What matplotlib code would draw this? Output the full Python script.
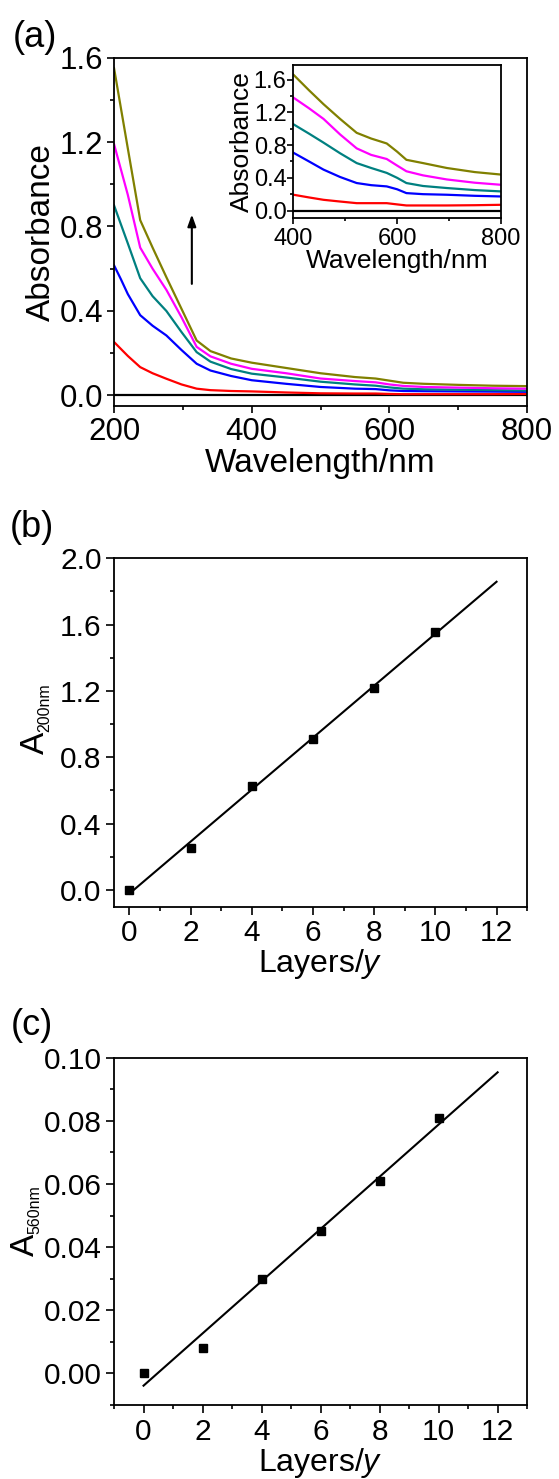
import matplotlib
matplotlib.use('Agg')
import matplotlib.pyplot as plt
import numpy as np
from matplotlib.ticker import MultipleLocator

plt.rcParams['font.family'] = ['Liberation Sans', 'DejaVu Sans']
plt.rcParams['mathtext.fontset'] = 'custom'
plt.rcParams['mathtext.rm'] = 'Liberation Sans'
plt.rcParams['mathtext.it'] = 'Liberation Sans:italic'
plt.rcParams['axes.linewidth'] = 1.3

# ---------------- data ----------------
# (a) main spectra, wavelength in nm
wl = [200, 210, 220, 238, 256, 276, 298, 320, 340, 370, 400, 450, 500,
      550, 580, 600, 620, 650, 700, 750, 800]
abs_0 = [0.0] * len(wl)
abs_2 = [0.253, 0.22, 0.187, 0.134, 0.105, 0.079, 0.052, 0.032, 0.025, 0.021, 0.019,
         0.014, 0.010, 0.009, 0.009, 0.007, 0.006, 0.006, 0.006, 0.006, 0.007]
abs_4 = [0.616, 0.55, 0.48, 0.38, 0.33, 0.284, 0.215, 0.15, 0.118, 0.092, 0.072,
         0.055, 0.040, 0.032, 0.030, 0.024, 0.021, 0.020, 0.019, 0.018, 0.017]
abs_6 = [0.90, 0.81, 0.72, 0.555, 0.47, 0.40, 0.30, 0.205, 0.16, 0.125, 0.103,
         0.085, 0.065, 0.052, 0.046, 0.038, 0.032, 0.029, 0.027, 0.025, 0.023]
abs_8 = [1.19, 1.07, 0.95, 0.70, 0.60, 0.50, 0.37, 0.23, 0.185, 0.15, 0.126,
         0.105, 0.080, 0.068, 0.062, 0.052, 0.045, 0.040, 0.037, 0.034, 0.032]
abs_10 = [1.55, 1.36, 1.17, 0.83, 0.70, 0.56, 0.41, 0.26, 0.21, 0.175, 0.155,
          0.13, 0.105, 0.087, 0.080, 0.070, 0.060, 0.055, 0.050, 0.046, 0.044]

# (a) inset, 400-800 nm
wl_in = [400, 430, 458, 490, 522, 550, 580, 600, 618, 650, 696, 750, 800]
in_0 = [0.0] * len(wl_in)
in_2 = [0.193, 0.16, 0.131, 0.11, 0.09, 0.09, 0.09, 0.075, 0.062, 0.062, 0.062, 0.065, 0.07]
in_4 = [0.706, 0.60, 0.50, 0.41, 0.336, 0.31, 0.295, 0.26, 0.213, 0.20, 0.193, 0.18, 0.172]
in_6 = [1.054, 0.94, 0.83, 0.70, 0.58, 0.52, 0.46, 0.40, 0.336, 0.30, 0.275, 0.25, 0.234]
in_8 = [1.38, 1.25, 1.12, 0.93, 0.76, 0.68, 0.63, 0.55, 0.48, 0.43, 0.38, 0.34, 0.315]
in_10 = [1.66, 1.47, 1.30, 1.12, 0.95, 0.88, 0.82, 0.72, 0.62, 0.58, 0.52, 0.47, 0.44]

# (b), (c) absorbance vs layers
layers = [0, 2, 4, 6, 8, 10]
a200 = [0.0, 0.255, 0.627, 0.908, 1.22, 1.558]
a560 = [0.0, 0.008, 0.030, 0.045, 0.061, 0.081]

colors = ['black', '#ff0000', '#0000ff', '#008080', '#ff00ff', '#808000']

TICK = 21.5
LAB = 23

fig = plt.figure(figsize=(5.59, 14.79), dpi=100)


def style(ax, size):
    ax.tick_params(which='both', direction='out', top=False, right=False,
                   labelsize=size, width=1.2, pad=3)
    ax.tick_params(which='major', length=5)
    ax.tick_params(which='minor', length=3)


# ---------------- (a) ----------------
ax1 = fig.add_axes([0.204, 0.7255, 0.739, 0.2356])
for y, c in zip([abs_0, abs_2, abs_4, abs_6, abs_8, abs_10], colors):
    ax1.plot(wl, y, color=c, lw=1.6)
ax1.set_xlim(200, 800)
ax1.set_ylim(-0.05, 1.6)
ax1.xaxis.set_major_locator(MultipleLocator(200))
ax1.xaxis.set_minor_locator(MultipleLocator(100))
ax1.yaxis.set_major_locator(MultipleLocator(0.4))
ax1.yaxis.set_minor_locator(MultipleLocator(0.2))
ax1.yaxis.set_major_formatter(plt.FormatStrFormatter('%.1f'))
style(ax1, 22.5)
ax1.set_xlabel('Wavelength/nm', fontsize=24, labelpad=1)
ax1.set_ylabel('Absorbance', fontsize=24, labelpad=2)
ax1.annotate('', xy=(313, 0.87), xytext=(313, 0.515),
             arrowprops=dict(arrowstyle='-|>,head_length=0.7,head_width=0.25',
                             color='black', lw=1.5))

ins = fig.add_axes([0.525, 0.8524, 0.3707, 0.1037])
for y, c in zip([in_0, in_2, in_4, in_6, in_8, in_10], colors):
    ins.plot(wl_in, y, color=c, lw=1.6)
ins.set_xlim(400, 800)
ins.set_ylim(-0.095, 1.78)
ins.xaxis.set_major_locator(MultipleLocator(200))
ins.xaxis.set_minor_locator(MultipleLocator(100))
ins.yaxis.set_major_locator(MultipleLocator(0.4))
ins.yaxis.set_minor_locator(MultipleLocator(0.2))
ins.yaxis.set_major_formatter(plt.FormatStrFormatter('%.1f'))
style(ins, 17)
ins.tick_params(which='major', length=4)
ins.tick_params(which='minor', length=2)
ins.tick_params(axis='y', pad=1)
ins.set_xlabel('Wavelength/nm', fontsize=19, labelpad=-1)
ins.set_ylabel('Absorbance', fontsize=19, labelpad=0)


def sub_label(ax, main, sub, xpos, ypos):
    t = ax.text(xpos, ypos, main, rotation=90, fontsize=LAB + 1,
                transform=ax.transAxes, ha='center', va='center')
    ax.annotate(sub, xy=(1.0, 1.0), xycoords=t, rotation=90, fontsize=11.5,
                ha='right', va='bottom', xytext=(1, 0), textcoords='offset points')


# ---------------- (b) ----------------
ax2 = fig.add_axes([0.204, 0.387, 0.739, 0.2356])
ax2.plot(layers, a200, 's', color='black', ms=5.5)
k, b = np.polyfit(layers, a200, 1)
xf = np.array([0, 12])
ax2.plot(xf, k * xf + b, color='black', lw=1.5)
ax2.set_xlim(-0.5, 13)
ax2.set_ylim(-0.1, 2.0)
ax2.xaxis.set_major_locator(MultipleLocator(2))
ax2.xaxis.set_minor_locator(MultipleLocator(1))
ax2.yaxis.set_major_locator(MultipleLocator(0.4))
ax2.yaxis.set_minor_locator(MultipleLocator(0.2))
ax2.yaxis.set_major_formatter(plt.FormatStrFormatter('%.1f'))
style(ax2, TICK)
ax2.tick_params(which='major', length=6)
ax2.set_xlabel('Layers/$\\mathit{y}$', fontsize=LAB, labelpad=0)
sub_label(ax2, 'A', '200nm', -0.19, 0.47)

# ---------------- (c) ----------------
ax3 = fig.add_axes([0.204, 0.05, 0.739, 0.2348])
ax3.plot(layers, a560, 's', color='black', ms=5.5)
k, b = np.polyfit(layers, a560, 1)
ax3.plot(xf, k * xf + b, color='black', lw=1.5)
ax3.set_xlim(-1, 13)
ax3.set_ylim(-0.01, 0.10)
ax3.xaxis.set_major_locator(MultipleLocator(2))
ax3.xaxis.set_minor_locator(MultipleLocator(1))
ax3.yaxis.set_major_locator(MultipleLocator(0.02))
ax3.yaxis.set_minor_locator(MultipleLocator(0.01))
ax3.yaxis.set_major_formatter(plt.FormatStrFormatter('%.2f'))
style(ax3, TICK)
ax3.tick_params(which='major', length=6)
ax3.set_xlabel('Layers/$\\mathit{y}$', fontsize=LAB, labelpad=0)
sub_label(ax3, 'A', '560nm', -0.215, 0.46)

# panel letters
fig.text(0.022, 1 - 20 / 1479, '(a)', fontsize=26, va='top')
fig.text(0.018, 1 - 510 / 1479, '(b)', fontsize=26, va='top')
fig.text(0.020, 1 - 1008 / 1479, '(c)', fontsize=26, va='top')

fig.savefig('out.png', dpi=100)
